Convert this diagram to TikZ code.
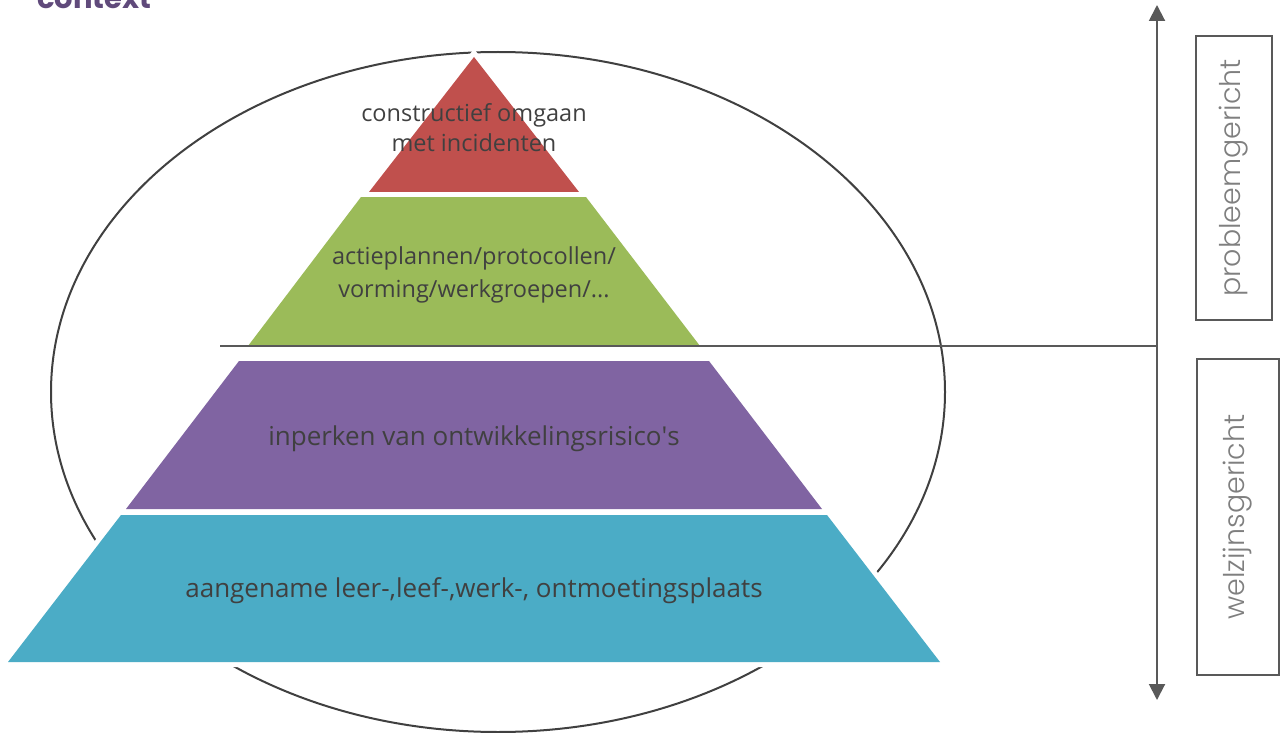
\documentclass[tikz,border=0pt]{standalone}
\usepackage{fontspec}
\setmainfont{Open Sans}
\newfontfamily\gothic{Poppins}
\newfontfamily\gothiclight{Poppins Light}
\usetikzlibrary{arrows.meta,positioning}
\definecolor{lvred}{HTML}{C0504D}
\definecolor{lvgreen}{HTML}{9BBB59}
\definecolor{lvpurple}{HTML}{8064A2}
\definecolor{lvteal}{HTML}{4BACC6}
\definecolor{txtgray}{HTML}{404040}
\definecolor{linegray}{HTML}{595959}
\definecolor{sidegray}{HTML}{7F7F7F}
\definecolor{titlepurple}{HTML}{604A7B}

\begin{document}
\begin{tikzpicture}[x=1pt,y=-1pt,
      lv/.style={preaction={draw=white,line width=10pt,line join=miter}},
      lbl/.style={font=\fontsize{26}{30}\selectfont,text=txtgray,align=center},
      ln/.style={linegray,line width=2pt},
      sidebox/.style={draw=linegray,line width=2pt,rotate=90,inner sep=0pt,
        font=\gothiclight\fontsize{28.5}{30}\selectfont,text=sidegray},
      dblarr/.style={linegray,line width=2pt,
        {Triangle[length=16pt,width=16pt]}-{Triangle[length=16pt,width=16pt]}}]
    \useasboundingbox (0,0) rectangle (1280,733);
    % context circle
    \draw[txtgray,line width=2pt] (498,392) ellipse [x radius=447, y radius=340];
    % pyramid layers
    \fill[lv,lvred]    (474,57) -- (579,192) -- (369,192) -- cycle;
    \fill[lv,lvgreen]  (361,197) -- (586,197) -- (700,346) -- (248,346) -- cycle;
    \fill[lv,lvpurple] (239,361) -- (709,361) -- (822,509) -- (126,509) -- cycle;
    \fill[lv,lvteal]   (121,515) -- (827,515) -- (940,662) -- (8,662) -- cycle;
    \node[lbl,font=\fontsize{23.5}{30}\selectfont] (incid) at (474,128) {constructief omgaan\\met incidenten};
    \node[lbl,font=\fontsize{23.5}{33}\selectfont] (actie) at (474,275) {actieplannen/protocollen/\\vorming/werkgroepen/...};
    \node[lbl] (risico) at (474,439) {inperken van ontwikkelingsrisico\textquotesingle s};
    \node[lbl] (plaats) at (474,591) {aangename leer-,leef-,werk-, ontmoetingsplaats};
    % title, cut off at the top
    \node[anchor=base west,inner sep=0pt,text=titlepurple,
          font=\gothic\bfseries\fontsize{29}{30}\selectfont] (ctx) at (37,9) {context};
    % axis
    \coordinate (atop) at (1157,5);
    \coordinate (abot) at (1157,700);
    \draw[dblarr] (atop) -- (abot);
    \coordinate (split) at (220,346);
    \draw[ln] (split) -- (split -| atop);
    \node[sidebox,minimum width=284pt,minimum height=76pt] (probl) at (1234,178) {probleemgericht};
    \node[sidebox,minimum width=316pt,minimum height=82pt] (welz) at (1238,517) {welzijnsgericht};
  \end{tikzpicture}
\end{document}
